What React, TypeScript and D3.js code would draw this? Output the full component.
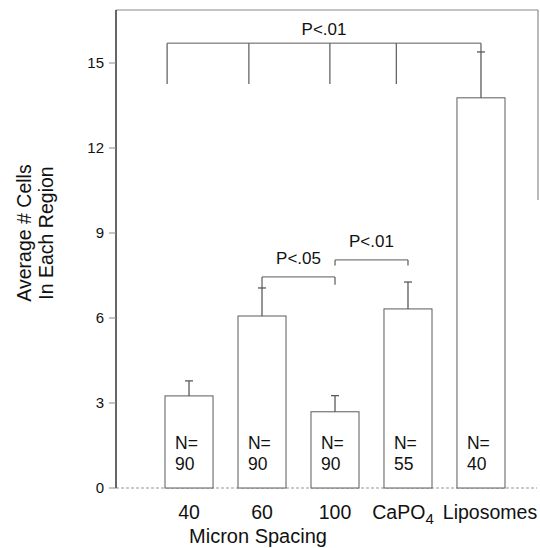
import { useEffect } from "react";
import * as d3 from "d3";

const categories = ["40", "60", "100", "CaPO4", "Liposomes"];
const means = [3.25, 6.07, 2.69, 6.32, 13.77];
const errors = [0.53, 0.99, 0.57, 0.95, 1.62];
const counts = [90, 90, 90, 55, 40];
const yTicks = [0, 3, 6, 9, 12, 15];

// brackets in bar-index units: horizontal level, plus [index, bottom value] drops
const bracketLabels = ["P<.01", "P<.05", "P<.01"];
const bracketLevels = [15.7, 7.45, 8.05];
const bracketSpans = [
  [-0.3, 4],
  [1, 2],
  [2, 3],
];
const bracketDrops = [
  [
    [-0.3, 14.26],
    [0.82, 14.26],
    [1.93, 14.26],
    [2.84, 14.26],
    [4, 15.39],
  ],
  [
    [1, 7.06],
    [2, 7.17],
  ],
  [
    [2, 7.85],
    [3, 7.85],
  ],
];

const W = 540;
const H = 548;
const FONT = "'Liberation Sans', Arial, Helvetica, sans-serif";
const LINE = "#5a5a5a";

export default function App() {
  useEffect(() => {
    document.body.style.margin = "0";
  }, []);

  const axisX = 116;
  const top = 10;
  const base = 488;

  const y = d3.scaleLinear().domain([0, 16.87]).range([base, top]);
  const x = d3.scaleBand().domain(categories).range([165, 505]).paddingInner(0.342).paddingOuter(0);
  const bw = x.bandwidth();
  const cx = (c: string) => (x(c) ?? 0) + bw / 2;
  const xi = d3.scaleLinear().domain([0, 4]).range([cx(categories[0]), cx(categories[4])]);

  const labelNudge = [0, 0, 0, -5, 9];

  return (
    <svg width={W} height={H} style={{ display: "block", background: "#fff" }} fontFamily={FONT}>
      {/* frame */}
      <line x1={axisX} x2={538} y1={top} y2={top} stroke="#888" strokeWidth={1} />
      <line x1={538} x2={538} y1={top} y2={200} stroke="#777" strokeWidth={1} />
      <line x1={axisX} x2={537} y1={base} y2={base} stroke="#999" strokeWidth={1} strokeDasharray="3,2" />

      {/* y axis */}
      <line x1={axisX} x2={axisX} y1={top} y2={base} stroke="#333" strokeWidth={1.5} />
      {yTicks.map((t) => (
        <g key={t}>
          <line x1={axisX - 7} x2={axisX} y1={y(t)} y2={y(t)} stroke="#888" strokeWidth={1} />
          <text x={104} y={y(t) + 5} textAnchor="end" fontSize={15} fill="#111">
            {t}
          </text>
        </g>
      ))}
      <g transform={`translate(31, 233) rotate(-90)`}>
        <text textAnchor="middle" fontSize={19.5} fill="#111">
          Average # Cells
        </text>
      </g>
      <g transform={`translate(53, 233) rotate(-90)`}>
        <text textAnchor="middle" fontSize={19.5} fill="#111">
          In Each Region
        </text>
      </g>

      {/* bars */}
      {categories.map((c, i) => {
        const x0 = x(c) ?? 0;
        const c0 = cx(c);
        const yTop = y(means[i]);
        const yErr = y(means[i] + errors[i]);
        return (
          <g key={c}>
            <rect x={x0} y={yTop} width={bw} height={base - yTop} fill="#fff" stroke={LINE} strokeWidth={1} />
            <line x1={c0} x2={c0} y1={yTop} y2={yErr} stroke={LINE} strokeWidth={1.3} />
            <line x1={c0 - 4} x2={c0 + 4} y1={yErr} y2={yErr} stroke={LINE} strokeWidth={1.3} />
            <text x={x0 + 10} y={449} fontSize={17.5} fill="#111">
              N=
            </text>
            <text x={x0 + 10} y={470} fontSize={17.5} fill="#111">
              {counts[i]}
            </text>
            <text x={c0 + labelNudge[i]} y={519} textAnchor="middle" fontSize={19.5} fill="#111">
              {c === "CaPO4" ? (
                <>
                  CaPO
                  <tspan fontSize={15} dy={5}>
                    4
                  </tspan>
                </>
              ) : (
                c
              )}
            </text>
          </g>
        );
      })}

      <text x={(cx(categories[0]) + cx(categories[2])) / 2 - 4} y={543} textAnchor="middle" fontSize={20} fill="#111">
        Micron Spacing
      </text>

      {/* significance brackets */}
      {bracketLabels.map((lab, b) => {
        const lv = y(bracketLevels[b]);
        const [a, e] = bracketSpans[b];
        const xa = xi(a);
        const xe = xi(e);
        return (
          <g key={b}>
            <line x1={xa} x2={xe} y1={lv} y2={lv} stroke={LINE} strokeWidth={1} />
            {bracketDrops[b].map(([p, v], k) => (
              <line key={k} x1={xi(p)} x2={xi(p)} y1={lv} y2={y(v)} stroke={LINE} strokeWidth={1.2} />
            ))}
            <text x={(xa + xe) / 2} y={lv - (b === 0 ? 8 : 13)} textAnchor="middle" fontSize={17} fill="#111">
              {lab}
            </text>
          </g>
        );
      })}
    </svg>
  );
}
